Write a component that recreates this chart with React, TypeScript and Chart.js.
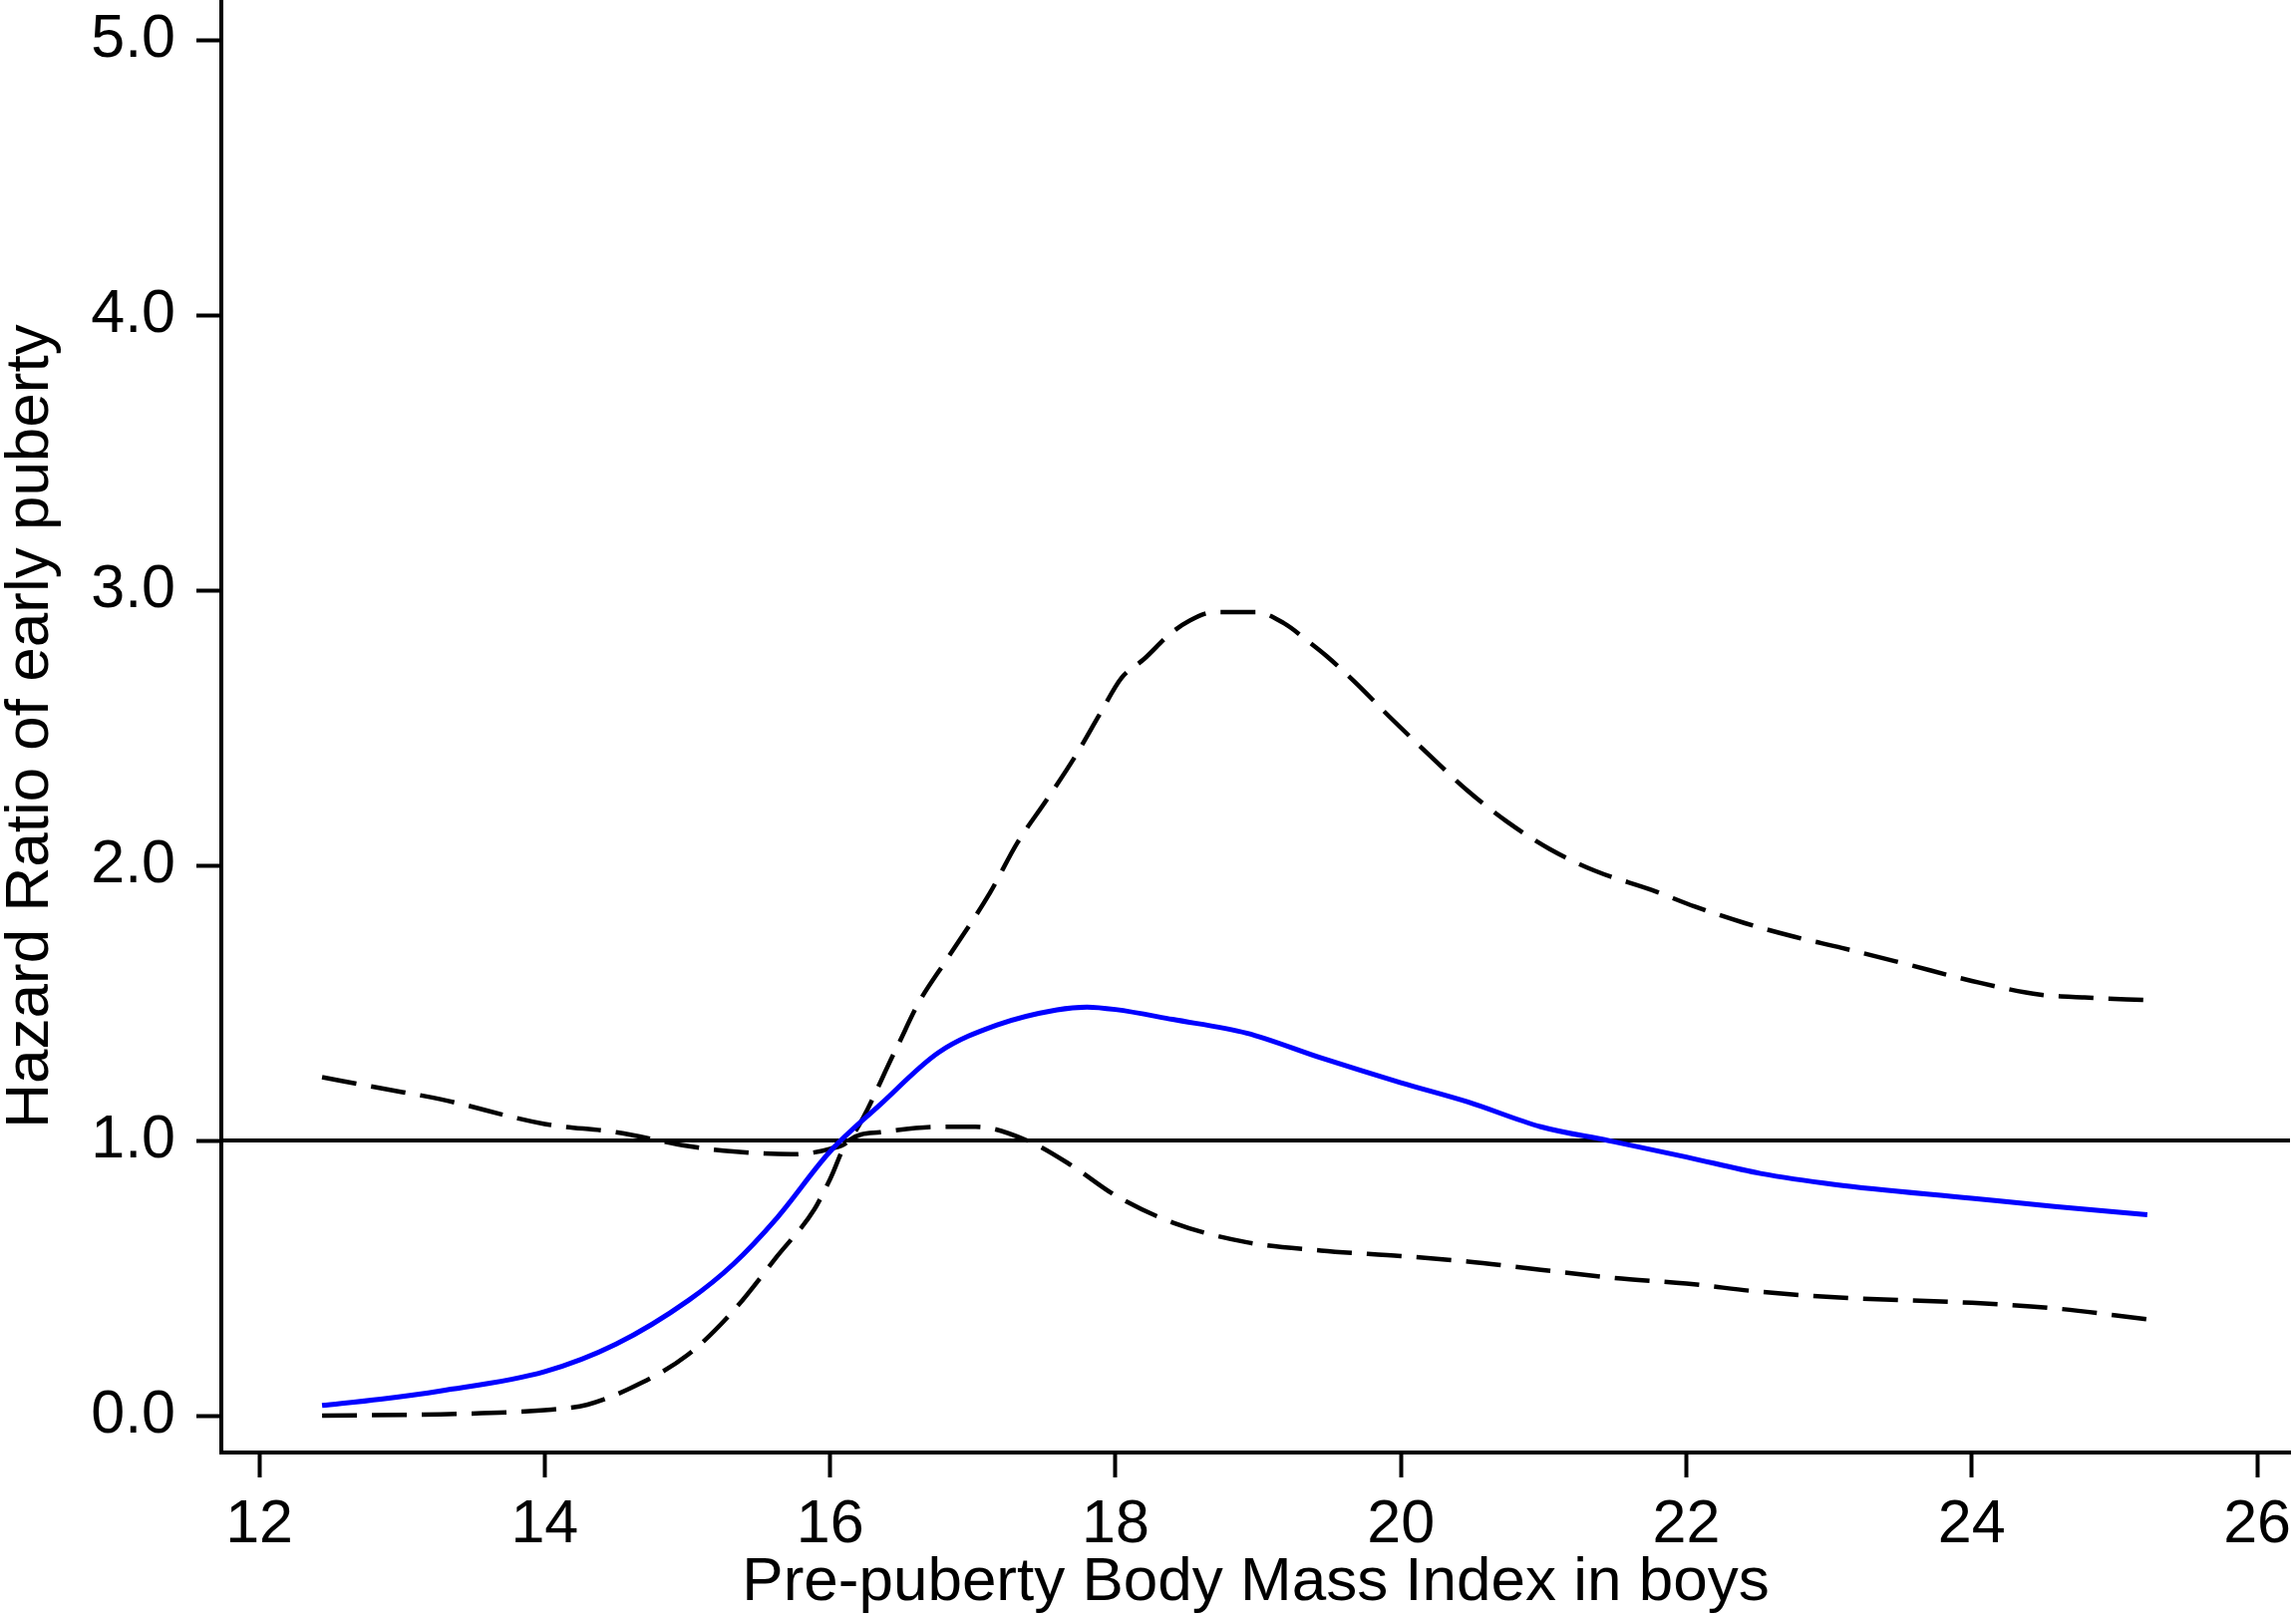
import { useEffect, useRef } from 'react'
import { Chart, registerables } from 'chart.js'
Chart.register(...registerables)

// BMI values (x) and hazard ratio (y)
const HR_X = [12.44, 12.85, 13.27, 14.0, 14.5, 15.01, 15.32, 15.63, 16.0, 16.35, 16.76, 17.17, 17.59, 17.8, 18.0, 18.4, 18.92, 19.44, 20.0, 20.47, 20.98, 21.45, 22.0, 22.52, 23.04, 24.0, 24.58, 25.23]
const HR_Y = [0.037, 0.06, 0.09, 0.16, 0.26, 0.42, 0.55, 0.72, 0.96, 1.13, 1.32, 1.42, 1.475, 1.485, 1.476, 1.44, 1.39, 1.30, 1.21, 1.14, 1.05, 1.0, 0.94, 0.88, 0.84, 0.79, 0.76, 0.73]

const UP_X = [12.44, 12.85, 13.27, 14.0, 14.5, 15.0, 15.32, 15.73, 16.0, 16.13, 16.46, 16.62, 16.82, 17.12, 17.31, 17.52, 17.71, 17.89, 18.04, 18.2, 18.38, 18.52, 18.69, 18.99, 19.18, 19.36, 19.48, 19.67, 19.92, 20.18, 20.47, 20.74, 21.04, 21.36, 21.76, 22.06, 22.41, 22.76, 23.09, 23.55, 24.0, 24.48, 24.79, 25.23]
const UP_Y = [1.23, 1.19, 1.15, 1.06, 1.03, 0.98, 0.96, 0.95, 0.97, 1.0, 1.33, 1.50, 1.66, 1.90, 2.08, 2.24, 2.39, 2.55, 2.68, 2.75, 2.84, 2.89, 2.92, 2.92, 2.88, 2.81, 2.76, 2.67, 2.54, 2.41, 2.27, 2.16, 2.06, 1.98, 1.91, 1.85, 1.79, 1.74, 1.70, 1.64, 1.58, 1.53, 1.52, 1.51]

const LO_X = [12.44, 13.27, 14.0, 14.3, 14.6, 15.0, 15.32, 15.63, 15.89, 16.0, 16.13, 16.35, 16.76, 17.02, 17.38, 17.69, 18.0, 18.41, 18.92, 19.44, 20.0, 20.47, 20.98, 21.5, 22.0, 22.52, 23.04, 24.0, 24.58, 25.23]
const LO_Y = [0.0, 0.005, 0.02, 0.04, 0.10, 0.22, 0.38, 0.58, 0.75, 0.86, 1.0, 1.03, 1.05, 1.05, 1.0, 0.91, 0.80, 0.70, 0.63, 0.60, 0.58, 0.56, 0.53, 0.50, 0.48, 0.45, 0.43, 0.41, 0.39, 0.35]

const X_MIN = 11.734
const X_MAX = 26.23
const Y_MIN = -0.134
const Y_MAX = 5.145
const REF_X = [X_MIN, X_MAX]
const REF_Y = [1, 1]

const X_TICKS = [12, 14, 16, 18, 20, 22, 24, 26]
const Y_TICKS = [0, 1, 2, 3, 4, 5]

const FAMILY = '"Liberation Sans", Arial, sans-serif'
const TICK_FONT = { family: FAMILY, size: 61, lineHeight: 1 }
const TITLE_FONT = { family: FAMILY, size: 62, lineHeight: 1 }
const pts = (xs: number[], ys: number[]) => xs.map((x, i) => ({ x, y: ys[i] }))

export default function App() {
  const ref = useRef<HTMLCanvasElement>(null)

  useEffect(() => {
    if (!ref.current) return
    const chart = new Chart(ref.current, {
      type: 'scatter',
      data: {
        datasets: [
          { data: pts(HR_X, HR_Y), borderColor: '#0000FF', borderWidth: 5, cubicInterpolationMode: 'monotone' },
          { data: pts(UP_X, UP_Y), borderColor: '#000', borderWidth: 4.5, borderDash: [35, 15], cubicInterpolationMode: 'monotone' },
          { data: pts(LO_X, LO_Y), borderColor: '#000', borderWidth: 4.5, borderDash: [35, 15], cubicInterpolationMode: 'monotone' },
          { data: pts(REF_X, REF_Y), borderColor: '#000', borderWidth: 4 },
        ],
      },
      options: {
        animation: false, responsive: true, maintainAspectRatio: false, devicePixelRatio: 1,
        layout: { padding: { left: 0, right: 6, top: 0, bottom: 0 } },
        datasets: { scatter: { showLine: true, pointRadius: 0, clip: false as any } },
        plugins: { legend: { display: false }, tooltip: { enabled: false } },
        scales: {
          x: {
            type: 'linear', min: X_MIN, max: X_MAX,
            afterBuildTicks: s => { s.ticks = X_TICKS.map(v => ({ value: v })) },
            afterFit: (s: any) => { s.height = 164; s.paddingLeft = 0; s.paddingRight = 0 },
            grid: { drawOnChartArea: false, drawTicks: true, tickLength: 25, tickWidth: 4, tickColor: '#000' },
            border: { display: true, color: '#000', width: 4 },
            ticks: { color: '#000', font: TICK_FONT, padding: 18, maxRotation: 0, autoSkip: false, callback: v => String(v) },
            title: { display: true, text: 'Pre-puberty Body Mass Index in boys', color: '#000', font: TITLE_FONT, padding: { top: 0, bottom: 2 } },
          },
          y: {
            type: 'linear', min: Y_MIN, max: Y_MAX,
            afterBuildTicks: s => { s.ticks = Y_TICKS.map(v => ({ value: v })) },
            afterFit: (s: any) => { s.width = 222; s.paddingTop = 0; s.paddingBottom = 0 },
            grid: { drawOnChartArea: false, drawTicks: true, tickLength: 25, tickWidth: 4, tickColor: '#000' },
            border: { display: true, color: '#000', width: 4 },
            ticks: { color: '#000', font: TICK_FONT, padding: 21, autoSkip: false, callback: v => Number(v).toFixed(1) },
            title: { display: true, text: 'Hazard Ratio of early puberty', color: '#000', font: TITLE_FONT, padding: { top: 0, bottom: 0 } },
          },
        },
      },
    })
    return () => chart.destroy()
  }, [])

  return (
    <div style={{ position: 'absolute', left: 0, top: 0, width: 2303, height: 1621, background: '#fff' }}>
      <canvas ref={ref} />
    </div>
  )
}
